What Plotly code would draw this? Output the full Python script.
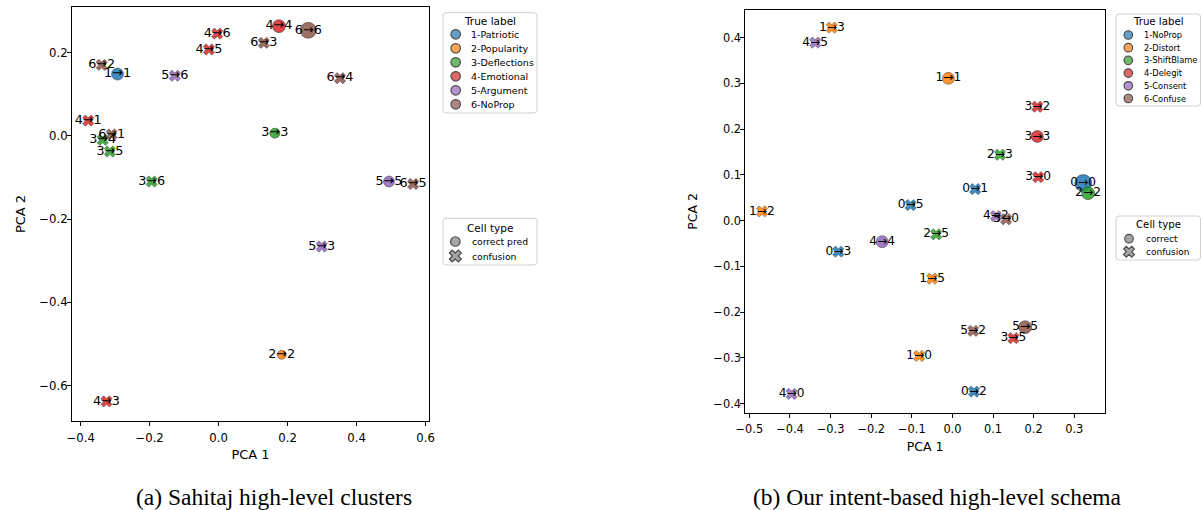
import plotly.graph_objects as go

W, H = 1201, 510
FONT = "DejaVu Sans"
COLORS = ["#1f77b4", "#ff7f0e", "#2ca02c", "#d62728", "#9467bd", "#8c564b"]

# ---------------- data: panel (a) ----------------
left_classes = ["1-Patriotic", "2-Popularity", "3-Deflections", "4-Emotional", "5-Argument", "6-NoProp"]
left_code_base = 1  # codes 1..6
left_true = [4, 6, 4, 4, 6, 6, 1, 5, 6, 4, 6, 3, 3, 3, 3, 5, 6, 5, 2, 4]
left_pred = [4, 6, 6, 5, 3, 2, 1, 6, 4, 1, 1, 4, 5, 3, 6, 5, 5, 3, 2, 3]
left_pc1 = [0.175, 0.260, -0.004, -0.028, 0.131, -0.339, -0.293, -0.127, 0.352, -0.378,
            -0.310, -0.336, -0.315, 0.163, -0.194, 0.494, 0.564, 0.299, 0.183, -0.325]
left_pc2 = [0.263, 0.253, 0.245, 0.207, 0.223, 0.170, 0.148, 0.144, 0.138, 0.036,
            0.003, -0.010, -0.038, 0.006, -0.110, -0.110, -0.116, -0.266, -0.526, -0.638]
left_correct_counts = [36, 20, 25, 42, 30, 64]  # per class, drives circle size

# ---------------- data: panel (b) ----------------
right_classes = ["1-NoProp", "2-Distort", "3-ShiftBlame", "4-Delegit", "5-Consent", "6-Confuse"]
right_code_base = 0  # codes 0..5
right_true = [1, 4, 1, 3, 3, 2, 3, 0, 2, 0, 0, 1, 4, 5, 2, 4, 0, 1, 5, 3, 5, 1, 0, 4]
right_pred = [3, 5, 1, 2, 3, 3, 0, 0, 2, 1, 5, 2, 2, 0, 5, 4, 3, 5, 5, 5, 2, 0, 2, 0]
right_pc1 = [-0.297, -0.338, -0.010, 0.209, 0.209, 0.117, 0.211, 0.322, 0.334, 0.056,
             -0.103, -0.469, 0.107, 0.132, -0.040, -0.173, -0.281, -0.050, 0.179, 0.150,
             0.051, -0.082, 0.053, -0.396]
right_pc2 = [0.422, 0.389, 0.311, 0.249, 0.184, 0.144, 0.095, 0.082, 0.060, 0.069,
             0.034, 0.020, 0.010, 0.003, -0.030, -0.046, -0.068, -0.127, -0.233, -0.257,
             -0.241, -0.296, -0.374, -0.379]
right_correct_counts = [72, 36, 42, 36, 36, 42]

left_xticks = [-0.4, -0.2, 0.0, 0.2, 0.4, 0.6]
left_yticks = [-0.6, -0.4, -0.2, 0.0, 0.2]
right_xticks = [-0.5, -0.4, -0.3, -0.2, -0.1, 0.0, 0.1, 0.2, 0.3]
right_yticks = [-0.4, -0.3, -0.2, -0.1, 0.0, 0.1, 0.2, 0.3, 0.4]

fig = go.Figure()


def add_panel(xa, ya, true, pred, pc1, pc2, counts, base, label_size):
    n_cls = len(counts)
    for c in range(n_cls):
        code = c + base
        col = COLORS[c]
        ok = [i for i in range(len(true)) if true[i] == code and pred[i] == code]
        bad = [i for i in range(len(true)) if true[i] == code and pred[i] != code]
        if bad:
            fig.add_trace(go.Scatter(
                x=[pc1[i] for i in bad], y=[pc2[i] for i in bad], xaxis=xa, yaxis=ya,
                mode="markers", showlegend=False, hoverinfo="skip", cliponaxis=False,
                marker=dict(symbol="x", size=10, color=col, opacity=0.85,
                            line=dict(color="rgba(0,0,0,0.75)", width=0.5))))
        if ok:
            fig.add_trace(go.Scatter(
                x=[pc1[i] for i in ok], y=[pc2[i] for i in ok], xaxis=xa, yaxis=ya,
                mode="markers", showlegend=False, hoverinfo="skip", cliponaxis=False,
                marker=dict(symbol="circle", size=[2.0 * counts[c] ** 0.5 for _ in ok],
                            color=col, opacity=0.85,
                            line=dict(color="rgba(0,0,0,0.75)", width=0.6))))
    fig.add_trace(go.Scatter(
        x=pc1, y=pc2, xaxis=xa, yaxis=ya, mode="text", showlegend=False, hoverinfo="skip",
        cliponaxis=False,
        text=[f"{t}\u2192{p}" for t, p in zip(true, pred)], textposition="middle center",
        textfont=dict(family=FONT, size=label_size, color="black")))


add_panel("x", "y", left_true, left_pred, left_pc1, left_pc2, left_correct_counts, left_code_base, 12.8)
add_panel("x2", "y2", right_true, right_pred, right_pc1, right_pc2, right_correct_counts, right_code_base, 12.2)

# ---------------- legends (drawn on a pixel overlay) ----------------
shapes = []
annotations = []
leg_x, leg_y, leg_sym, leg_col, leg_size = [], [], [], [], []


def rounded_box(x0, y0, x1, y1, r=3):
    path = (f"M{x0+r},{y0} L{x1-r},{y0} Q{x1},{y0} {x1},{y0+r} L{x1},{y1-r} Q{x1},{y1} {x1-r},{y1} "
            f"L{x0+r},{y1} Q{x0},{y1} {x0},{y1-r} L{x0},{y0+r} Q{x0},{y0} {x0+r},{y0} Z")
    shapes.append(dict(type="path", path=path, xref="x3", yref="y3", layer="below",
                       line=dict(color="#d0d0d0", width=1), fillcolor="rgba(255,255,255,0.8)"))


def legend_block(box, title, title_y, title_size, names, colors, symbols, item_y0, step,
                 mk_x, txt_x, item_size, mk_size):
    x0, y0, x1, y1 = box
    rounded_box(x0, y0, x1, y1)
    annotations.append(dict(x=(x0 + x1) / 2, y=title_y, xref="x3", yref="y3", text=title,
                            showarrow=False, xanchor="center", yanchor="middle",
                            font=dict(family=FONT, size=title_size, color="black")))
    for k, name in enumerate(names):
        yy = item_y0 + k * step
        leg_x.append(mk_x)
        leg_y.append(yy)
        leg_sym.append(symbols[k])
        leg_col.append(colors[k])
        leg_size.append(mk_size if symbols[k] == "circle" else mk_size + 1)
        annotations.append(dict(x=txt_x, y=yy, xref="x3", yref="y3", text=name,
                                showarrow=False, xanchor="left", yanchor="middle",
                                font=dict(family=FONT, size=item_size, color="black")))


legend_block((443, 12.7, 537, 113), "True label", 20.5, 10.5, left_classes, COLORS,
             ["circle"] * 6, 34.3, 14.0, 455.7, 468.5, 9.5, 9.5)
legend_block((443, 218.3, 537, 265), "Cell type", 228, 10.5, ["correct pred", "confusion"],
             ["#808080", "#808080"], ["circle", "x"], 241.5, 14.5, 455.3, 469.5, 9.2, 9.5)
legend_block((1116, 14, 1200.5, 106), "True label", 21.7, 10.2, right_classes, COLORS,
             ["circle"] * 6, 35, 12.7, 1128.3, 1141.5, 8.3, 8.5)
legend_block((1116, 216, 1200.5, 260), "Cell type", 224.5, 10.2, ["correct", "confusion"],
             ["#808080", "#808080"], ["circle", "x"], 238.7, 13.0, 1129, 1144, 9.0, 8.5)

fig.add_trace(go.Scatter(
    x=leg_x, y=leg_y, xaxis="x3", yaxis="y3", mode="markers", showlegend=False,
    hoverinfo="skip", cliponaxis=False,
    marker=dict(symbol=leg_sym, size=leg_size, color=leg_col,
                line=dict(color="black", width=1.2))))

# captions
annotations.append(dict(x=274, y=497, xref="x3", yref="y3",
                        text="(a) Sahitaj high-level clusters", showarrow=False,
                        xanchor="center", yanchor="middle",
                        font=dict(family="Liberation Serif", size=23.5, color="black")))
annotations.append(dict(x=937.5, y=497, xref="x3", yref="y3",
                        text="(b) Our intent-based high-level schema", showarrow=False,
                        xanchor="center", yanchor="middle",
                        font=dict(family="Liberation Serif", size=23.5, color="black")))


def axis(domain, rng, ticks, title, tick_size, title_size, anchor, standoff, lab_off):
    return dict(domain=domain, range=rng, tickvals=ticks, tickformat=".1f", ticks="outside",
                ticklen=4, tickwidth=1, tickcolor="black", showline=True, mirror=True,
                linecolor="black", linewidth=1, showgrid=False, zeroline=False,
                anchor=anchor, fixedrange=True, automargin=False, ticklabelstandoff=lab_off,
                tickfont=dict(family=FONT, size=tick_size, color="black"),
                title=dict(text=title, standoff=standoff,
                           font=dict(family=FONT, size=title_size, color="black")))


fig.update_layout(
    width=W, height=H, autosize=False,
    margin=dict(l=0, r=0, t=0, b=0, pad=0, autoexpand=False),
    paper_bgcolor="white", plot_bgcolor="rgba(0,0,0,0)",
    showlegend=False,
    xaxis=axis([72 / W, 429 / W], [-0.425, 0.61], left_xticks, "PCA 1", 11.7, 13, "y", 5, 2),
    yaxis=axis([1 - 421 / H, 1 - 7 / H], [-0.685, 0.309], left_yticks, "PCA 2", 11.7, 13, "x", 10, -3),
    xaxis2=axis([745.3 / W, 1105 / W], [-0.51, 0.3756], right_xticks, "PCA 1", 11.4, 12.5, "y2", 6, 2),
    yaxis2=axis([1 - 412.7 / H, 1 - 10 / H], [-0.42, 0.4605], right_yticks, "PCA 2", 11.4, 12.5, "x2", 12, -3),
    xaxis3=dict(domain=[0, 1], range=[0, W], visible=False, anchor="y3", fixedrange=True,
                automargin=False),
    yaxis3=dict(domain=[0, 1], range=[H, 0], visible=False, anchor="x3", fixedrange=True,
                automargin=False),
    shapes=shapes,
    annotations=annotations,
)

fig.write_html("out.html", config={"displayModeBar": False},
               post_script="document.body.style.margin='0px';document.body.style.overflow='hidden';")
